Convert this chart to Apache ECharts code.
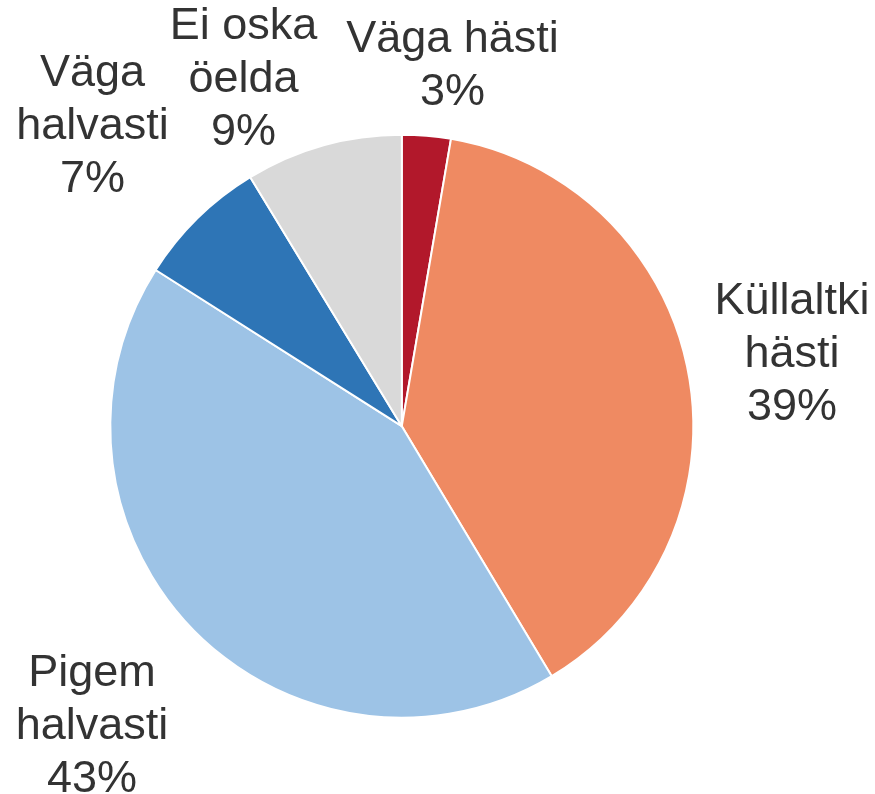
<!DOCTYPE html>
<html>
<head>
<meta charset="utf-8">
<script src="https://cdn.jsdelivr.net/npm/echarts@6/dist/echarts.min.js"></script>
<style>
html,body{margin:0;padding:0;background:#fff;}
#chart{width:875px;height:794px;}
</style>
</head>
<body>
<div id="chart"></div>
<script>
const categories = ['Väga hästi', 'Küllaltki hästi', 'Pigem halvasti', 'Väga halvasti', 'Ei oska öelda'];
const labelText = ['Väga hästi', 'Küllaltki\nhästi', 'Pigem\nhalvasti', 'Väga\nhalvasti', 'Ei oska\nöelda'];
const values = [2.7, 38.7, 42.6, 7.3, 8.7];
const shownPct = [3, 39, 43, 7, 9];
const colors = ['#B2182B', '#EF8A62', '#9DC3E6', '#2E75B6', '#D9D9D9'];

// label placement styling (radial distance from centre and angular nudge, degrees)
const labelRadius = [363.7, 396.6, 431.5, 430.7, 381.1];
const labelAngleShift = [3.15, 0.28, 0.17, -1.44, -8.88];

const CX = 401.8, CY = 426.2, R = 291.5;
const total = values.reduce((a, b) => a + b, 0);
const midAngles = [];
let acc = 0;
values.forEach(v => { midAngles.push((acc + v / 2) / total * 360); acc += v; });

const chart = echarts.init(document.getElementById('chart'), null, {renderer: 'canvas'});
chart.setOption({
  animation: false,
  backgroundColor: '#ffffff',
  series: [{
    type: 'pie',
    center: [CX, CY],
    radius: R,
    startAngle: 90,
    clockwise: true,
    avoidLabelOverlap: false,
    itemStyle: {borderColor: '#ffffff', borderWidth: 2},
    label: {
      show: true,
      position: 'outside',
      fontFamily: 'Liberation Sans, Arial, sans-serif',
      fontSize: 45,
      lineHeight: 53,
      color: '#333333',
      formatter: p => labelText[p.dataIndex] + '\n' + shownPct[p.dataIndex] + '%'
    },
    labelLine: {show: false},
    labelLayout: function (params) {
      const i = params.dataIndex;
      const a = (midAngles[i] + labelAngleShift[i]) * Math.PI / 180;
      return {
        x: CX + Math.sin(a) * labelRadius[i],
        y: CY - Math.cos(a) * labelRadius[i],
        align: 'center',
        verticalAlign: 'middle'
      };
    },
    emphasis: {disabled: true},
    data: categories.map((c, i) => ({name: c, value: values[i], itemStyle: {color: colors[i]}}))
  }]
});
</script>
</body>
</html>
